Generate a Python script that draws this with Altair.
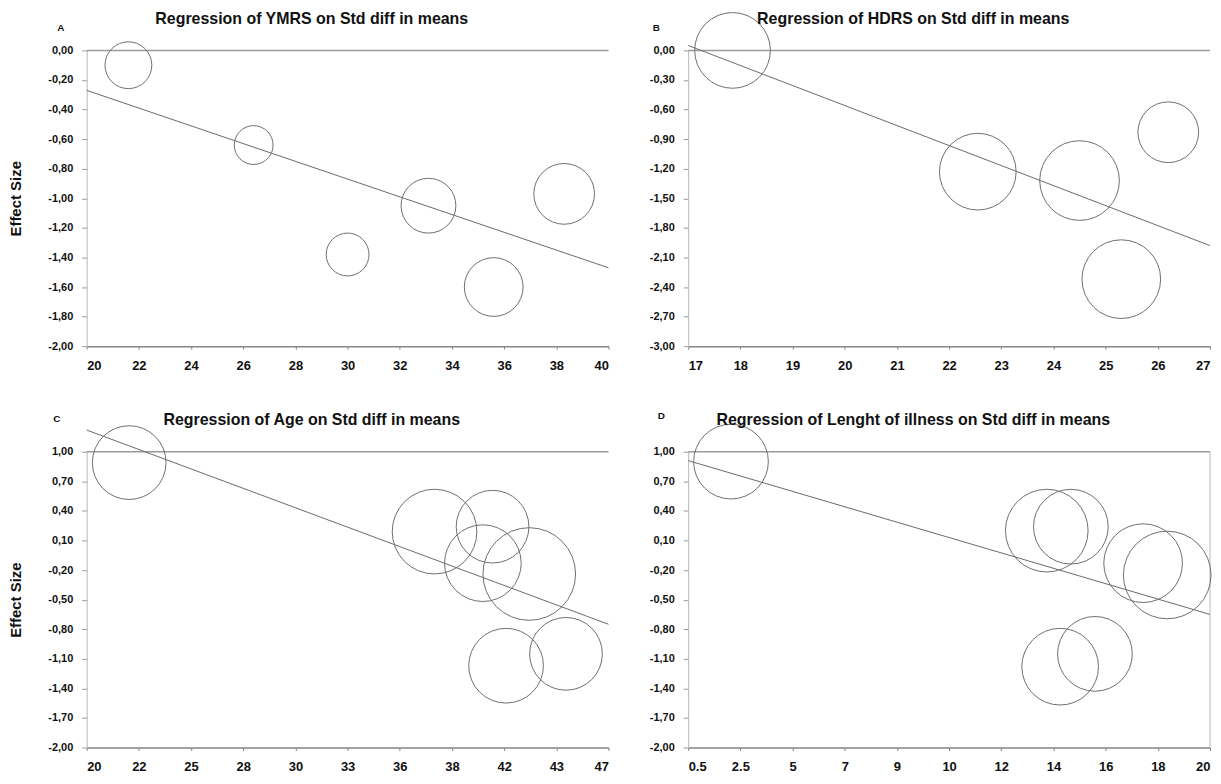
import json
import altair as alt
import pandas as pd

FONT = "Liberation Sans"

# ---------------- Panel A : YMRS ----------------
a_x = [21.6, 26.4, 30.0, 33.1, 35.6, 38.3]
a_es = [-0.10, -0.64, -1.38, -1.05, -1.60, -0.97]
a_wt = [22.1, 15.2, 18.5, 30.3, 34.8, 37.2]
a_fit_x = [20, 40]
a_fit_y = [-0.27, -1.47]
a_xticks = [20, 22, 24, 26, 28, 30, 32, 34, 36, 38, 40]
a_xlabels = ["20", "22", "24", "26", "28", "30", "32", "34", "36", "38", "40"]
a_yticks = [0.0, -0.2, -0.4, -0.6, -0.8, -1.0, -1.2, -1.4, -1.6, -1.8, -2.0]

# ---------------- Panel B : HDRS ----------------
b_x = [17.85, 22.55, 24.5, 25.3, 26.2]
b_es = [0.0, -1.23, -1.32, -2.32, -0.83]
b_wt = [57.8, 59.3, 64.0, 62.4, 37.2]
b_fit_x = [17, 27]
b_fit_y = [0.05, -1.98]
b_xticks = [17, 18, 19, 20, 21, 22, 23, 24, 25, 26, 27]
b_xlabels = ["17", "18", "19", "20", "21", "22", "23", "24", "25", "26", "27"]
b_yticks = [0.0, -0.3, -0.6, -0.9, -1.2, -1.5, -1.8, -2.1, -2.4, -2.7, -3.0]

# ---------------- Panel C : Age ----------------
c_x = [22.2, 38.0, 41.0, 40.5, 42.9, 41.7, 44.8]
c_es = [0.89, 0.19, 0.24, -0.13, -0.24, -1.17, -1.05]
c_wt = [54.8, 72.3, 53.3, 59.3, 86.5, 56.3, 53.3]
c_fit_x = [20, 47]
c_fit_y = [1.22, -0.75]
c_xticks = [20, 22.7, 25.4, 28.1, 30.8, 33.5, 36.2, 38.9, 41.6, 44.3, 47]
c_xlabels = ["20", "22", "25", "28", "30", "33", "36", "38", "42", "43", "47"]
c_yticks = [1.0, 0.7, 0.4, 0.1, -0.2, -0.5, -0.8, -1.1, -1.4, -1.7, -2.0]

# ---------------- Panel D : Length of illness ----------------
d_x = [2.1, 13.9, 14.8, 17.5, 18.4, 14.4, 15.7]
d_es = [0.90, 0.20, 0.24, -0.13, -0.25, -1.18, -1.05]
d_wt = [56.3, 68.9, 56.3, 62.4, 77.4, 59.3, 56.3]
d_fit_x = [0.5, 20]
d_fit_y = [0.91, -0.65]
d_xticks = [0.5, 2.45, 4.4, 6.35, 8.3, 10.25, 12.2, 14.15, 16.1, 18.05, 20]
d_xlabels = ["0.5", "2.5", "5", "7", "9", "10", "12", "14", "16", "18", "20"]
d_yticks = [1.0, 0.7, 0.4, 0.1, -0.2, -0.5, -0.8, -1.1, -1.4, -1.7, -2.0]

W, H = 524, 297
YLABEL = "(datum.value < -0.0001 ? '-' : '') + replace(format(abs(datum.value), '.2f'), '.', ',')"


def panel(letter, letter_pos, title, title_y, xs, es, wts, fit_x, fit_y, xticks, xlabels,
          yticks, ytitle, right_border=False):
    step = xticks[1] - xticks[0]
    xlab = f"{json.dumps(xlabels)}[round((datum.value - {xticks[0]}) / {step})]"
    xdom = [xticks[0], xticks[-1]]
    ydom = [min(yticks), max(yticks)]

    xaxis = alt.Axis(values=xticks, tickCount=len(xticks) + 2, labelExpr=xlab,
                     title=None, grid=False,
                     domainColor="#858585", domainWidth=1.5, tickColor="#858585",
                     tickSize=3, labelFont=FONT, labelFontWeight="bold",
                     labelFontSize=13, labelPadding=10, labelColor="#111",
                     labelOverlap=False)
    yaxis = alt.Axis(values=yticks, tickCount=len(yticks) + 2, labelExpr=YLABEL,
                     title=ytitle, grid=False,
                     domainColor="#b8b8b8", domainWidth=1, tickColor="#999999",
                     tickSize=5, labelFont=FONT, labelFontWeight="bold",
                     labelFontSize=11, labelPadding=9, labelColor="#111",
                     labelOverlap=False,
                     titleFont=FONT, titleFontWeight="bold", titleFontSize=15,
                     titleColor="#111", titlePadding=24)
    xsc = alt.Scale(domain=xdom, nice=False, zero=False)
    ysc = alt.Scale(domain=ydom, nice=False, zero=False)

    pts = pd.DataFrame({"x": xs, "y": es, "w": wts})
    points = alt.Chart(pts).mark_point(
        shape="circle", filled=False, color="#6e6e6e", strokeWidth=1, opacity=1
    ).encode(
        x=alt.X("x:Q", scale=xsc, axis=xaxis),
        y=alt.Y("y:Q", scale=ysc, axis=yaxis),
        size=alt.Size("w:Q", scale=alt.Scale(domain=[0, 100], range=[0, 10000]), legend=None),
    )

    fit = alt.Chart(pd.DataFrame({"x": fit_x, "y": fit_y})).mark_line(
        color="#6a6a6a", strokeWidth=1
    ).encode(x="x:Q", y="y:Q")

    top = alt.Chart(pd.DataFrame({"y": [ydom[1]]})).mark_rule(
        color="#9a9a9a", strokeWidth=1.5
    ).encode(y="y:Q")

    lab = alt.Chart(pd.DataFrame({"t": [letter]})).mark_text(
        font=FONT, fontSize=10, fontWeight="bold", color="#111", align="center",
        baseline="middle"
    ).encode(text="t:N", x=alt.value(letter_pos[0]), y=alt.value(letter_pos[1]))

    ttl = alt.Chart(pd.DataFrame({"t": [title]})).mark_text(
        font=FONT, fontSize=16, fontWeight="bold", color="#111", align="center",
        baseline="middle"
    ).encode(text="t:N", x=alt.value(W / 2 - 36), y=alt.value(title_y))

    layers = [top, fit, points, lab, ttl]
    if right_border:
        rb = alt.Chart(pd.DataFrame({"x": [xdom[1]]})).mark_rule(
            color="#b8b8b8", strokeWidth=1
        ).encode(x="x:Q")
        layers.insert(0, rb)

    return alt.layer(*layers).properties(width=W, height=H)


pA = panel("A", (-26, -22), "Regression of YMRS on Std diff in means", -32,
           a_x, a_es, a_wt, a_fit_x, a_fit_y, a_xticks, a_xlabels, a_yticks, "Effect Size")
pB = panel("B", (-32, -22), "Regression of HDRS on Std diff in means", -32,
           b_x, b_es, b_wt, b_fit_x, b_fit_y, b_xticks, b_xlabels, b_yticks, None)
pC = panel("C", (-30, -33), "Regression of Age on Std diff in means", -32,
           c_x, c_es, c_wt, c_fit_x, c_fit_y, c_xticks, c_xlabels, c_yticks, "Effect Size")
pD = panel("D", (-27, -36), "Regression of Lenght of illness on Std diff in means", -32,
           d_x, d_es, d_wt, d_fit_x, d_fit_y, d_xticks, d_xlabels, d_yticks, None,
           right_border=True)

chart = alt.concat(pA, pB, pC, pD, columns=2,
                   spacing={"row": 39, "column": 38}).properties(
    padding=0, background="white"
).configure_view(stroke=None)

chart.save("out.html", embed_options={"renderer": "svg", "actions": False})
